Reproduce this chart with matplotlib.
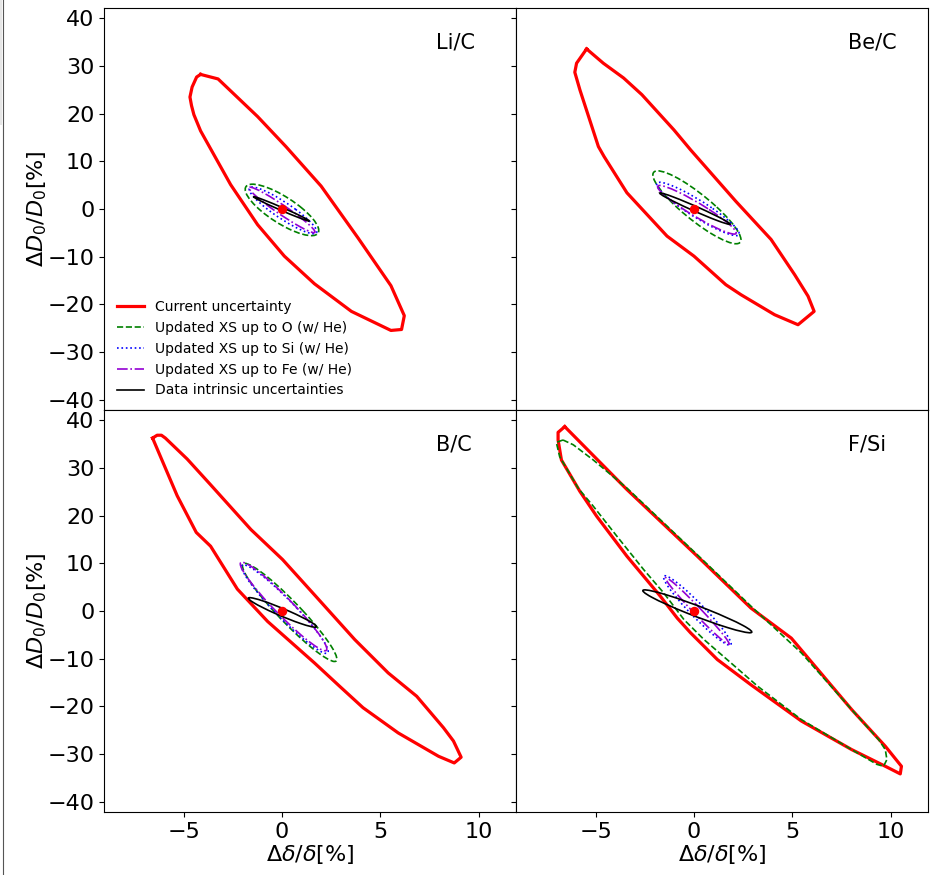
import numpy as np
import matplotlib
matplotlib.use('Agg')
import matplotlib.pyplot as plt
from matplotlib.patches import Ellipse, Rectangle
from matplotlib.lines import Line2D

# ---------------- data ----------------
panel_names = ['Li/C', 'Be/C', 'B/C', 'F/Si']

# "Current uncertainty" contours (red polygons)
li_red_x = [-4.14, -4.34, -4.57, -4.68, -4.60, -4.48, -4.14, -2.61, -1.24, 0.12, 1.65, 3.53, 5.54, 6.08,
            6.22, 5.54, 3.87, 1.99, 0.20, -1.24, -3.25, -4.14]
li_red_y = [28.25, 27.7, 25.6, 23.5, 21.7, 19.8, 16.4, 5.1, -3.3, -9.9, -15.7, -21.5, -25.5, -25.3,
            -22.4, -16.1, -6.1, 4.8, 13.1, 19.4, 27.3, 28.25]

be_red_x = [-5.46, -5.97, -6.06, -5.80, -4.86, -4.57, -3.41, -1.37, 0.0, 1.62, 2.39, 4.10, 5.29, 6.11,
            5.80, 5.12, 3.92, 2.13, -0.17, -1.02, -2.65, -3.58, -4.61, -5.46]
be_red_y = [33.6, 30.6, 28.7, 25.0, 13.1, 11.0, 3.4, -5.7, -9.9, -15.9, -18.0, -22.2, -24.3, -21.5,
            -18.3, -13.8, -6.4, 1.6, 12.4, 16.6, 24.0, 27.5, 30.6, 33.6]

b_red_x = [-6.58, -6.35, -6.13, -5.93, -4.82, -3.63, -1.58, 0.03, 1.65, 3.70, 5.40, 6.85, 8.21, 8.72,
           9.11, 8.76, 7.96, 5.91, 4.12, 2.93, 1.65, -0.73, -2.27, -3.63, -4.36, -5.33, -6.58]
b_red_y = [36.3, 36.9, 36.9, 36.3, 31.9, 26.5, 17.1, 10.8, 3.4, -6.0, -13.0, -17.9, -24.5, -27.3,
           -30.7, -31.9, -30.5, -25.6, -20.3, -15.8, -10.9, -2.2, 4.6, 13.6, 16.5, 24.2, 36.3]

f_red_x = [-6.57, -6.91, -6.91, -6.74, -5.80, -4.95, -3.41, -1.71, -0.85, -0.17, 1.19, 2.90, 5.46, 8.02,
           9.73, 10.49, 10.55, 9.73, 8.02, 4.95, 2.90, 0.17, -3.41, -6.57]
f_red_y = [38.7, 37.5, 35.9, 31.7, 25.1, 19.9, 11.5, 3.1, -1.5, -4.6, -10.2, -15.5, -23.1, -29.1,
           -32.6, -34.2, -32.6, -28.4, -20.7, -5.7, 0.6, 11.5, 25.5, 38.7]

# F/Si "Updated XS up to O" contour (follows the red one)
f_green_x = [-6.66, -7.00, -6.83, -5.89, -5.12, -3.92, -2.56, -1.54, -0.51, 0.51, 1.88, 3.24, 5.46, 8.02,
             9.30, 9.64, 9.81, 9.73, 9.39, 8.02, 5.46, 2.90, 0.17, -3.41, -5.12, -6.14, -6.66]
f_green_y = [35.9, 35.4, 32.4, 25.8, 22.0, 15.7, 8.7, 3.8, -1.8, -6.0, -10.9, -15.8, -22.8, -29.1,
             -32.2, -32.6, -31.2, -29.1, -27.0, -20.7, -8.8, 1.0, 11.8, 25.8, 31.7, 34.9, 35.9]

# Ellipse contours: (centre x, centre y, x half-extent, y half-extent, correlation)
li_green = (0.00, -0.20, 1.87, 5.40, -0.80)
li_blue = (0.05, -0.30, 1.72, 4.90, -0.91)
li_purple = (0.00, -0.20, 1.68, 4.78, -0.968)
li_black = (-0.03, 0.03, 1.42, 2.56, -0.991)

be_green = (0.15, 0.35, 2.24, 7.65, -0.89)
be_blue = (0.20, 0.00, 2.10, 5.60, -0.927)
be_purple = (0.15, -0.17, 2.00, 5.10, -0.947)
be_black = (0.05, 0.07, 1.79, 3.30, -0.985)

b_green = (0.39, -0.30, 2.40, 10.30, -0.95)
b_blue = (0.15, 0.40, 2.20, 9.30, -0.955)
b_purple = (0.08, 0.95, 2.20, 9.30, -0.96)
b_black = (0.02, -0.30, 1.73, 3.10, -0.96)

f_blue = (0.17, 0.10, 1.72, 7.30, -0.96)
f_purple = (0.17, 0.00, 1.62, 7.00, -0.987)
f_black = (0.17, -0.07, 2.77, 4.50, -0.963)

best_fit_x = [0.0]
best_fit_y = [0.0]

x_ticks = [-5, 0, 5, 10]
y_ticks = [-40, -30, -20, -10, 0, 10, 20, 30, 40]

legend_labels = ['Current uncertainty', 'Updated XS up to O (w/ He)', 'Updated XS up to Si (w/ He)',
                 'Updated XS up to Fe (w/ He)', 'Data intrinsic uncertainties']

# ---------------- styles ----------------
C_RED, C_GREEN, C_BLUE, C_PURPLE, C_BLACK = 'red', 'green', 'blue', 'darkviolet', 'black'
LW_RED, LW_THIN = 2.3, 1.2
FS = 16


def ellipse_patch(p, **kw):
    cx, cy, ex, ey, rho = p
    cov = np.array([[ex * ex, rho * ex * ey], [rho * ex * ey, ey * ey]])
    vals, vecs = np.linalg.eigh(cov)
    angle = np.degrees(np.arctan2(vecs[1, 1], vecs[0, 1]))
    return Ellipse((cx, cy), 2 * np.sqrt(vals[1]), 2 * np.sqrt(vals[0]), angle=angle,
                   fill=False, **kw)


panels = [
    dict(name=panel_names[0], rx=li_red_x, ry=li_red_y, green=li_green, blue=li_blue, purple=li_purple, black=li_black),
    dict(name=panel_names[1], rx=be_red_x, ry=be_red_y, green=be_green, blue=be_blue, purple=be_purple, black=be_black),
    dict(name=panel_names[2], rx=b_red_x, ry=b_red_y, green=b_green, blue=b_blue, purple=b_purple, black=b_black),
    dict(name=panel_names[3], rx=f_red_x, ry=f_red_y, green=None, blue=f_blue, purple=f_purple, black=f_black),
]

fig = plt.figure(figsize=(9.32, 8.75), dpi=100)
gs = fig.add_gridspec(2, 2, left=0.1116, right=0.9957, top=0.9909, bottom=0.072, wspace=0, hspace=0)
axes = gs.subplots(sharex=True, sharey=True)

for ax, p in zip(axes.flat, panels):
    ax.plot(p['rx'], p['ry'], color=C_RED, lw=LW_RED, zorder=3)
    if p['green'] is not None:
        ax.add_patch(ellipse_patch(p['green'], edgecolor=C_GREEN, lw=LW_THIN, ls='--', zorder=4))
    else:
        ax.plot(f_green_x, f_green_y, color=C_GREEN, lw=LW_THIN, ls='--', zorder=4)
    ax.add_patch(ellipse_patch(p['blue'], edgecolor=C_BLUE, lw=LW_THIN, ls=':', zorder=4))
    ax.add_patch(ellipse_patch(p['purple'], edgecolor=C_PURPLE, lw=LW_THIN, ls='-.', zorder=4))
    ax.add_patch(ellipse_patch(p['black'], edgecolor=C_BLACK, lw=LW_THIN, ls='-', zorder=5))
    ax.plot(best_fit_x, best_fit_y, 'o', color=C_RED, ms=5.8, zorder=6)
    ax.text(0.805, 0.915, p['name'], transform=ax.transAxes, fontsize=15, ha='left', va='center')
    ax.set_xlim(-9.05, 11.9)
    ax.set_ylim(-42.2, 42.2)
    ax.set_xticks(x_ticks)
    ax.set_yticks(y_ticks)
    ax.tick_params(labelsize=FS)

for ax in axes[:, 0]:
    ax.set_ylabel(r'$\Delta D_0/D_0[\%]$', fontsize=FS, labelpad=-1)
for ax in axes[1, :]:
    ax.set_xlabel(r'$\Delta\delta/\delta[\%]$', fontsize=FS, labelpad=1)

handles = [Line2D([], [], color=C_RED, lw=LW_RED),
           Line2D([], [], color=C_GREEN, lw=LW_THIN, ls='--'),
           Line2D([], [], color=C_BLUE, lw=LW_THIN, ls=':'),
           Line2D([], [], color=C_PURPLE, lw=LW_THIN, ls='-.'),
           Line2D([], [], color=C_BLACK, lw=LW_THIN)]
axes[0, 0].legend(handles, legend_labels, loc='lower left', fontsize=10, frameon=False)

# screenshot border remnants on the left
fig.add_artist(Rectangle((0, 1 - 125 / 875), 2.0 / 932, 125 / 875, transform=fig.transFigure,
                         facecolor='#e6e6e6', edgecolor='none'))
fig.add_artist(Line2D([2.5 / 932, 2.5 / 932], [0, 1], transform=fig.transFigure, color='#555555', lw=0.8))

fig.savefig('out.png', dpi=100)
